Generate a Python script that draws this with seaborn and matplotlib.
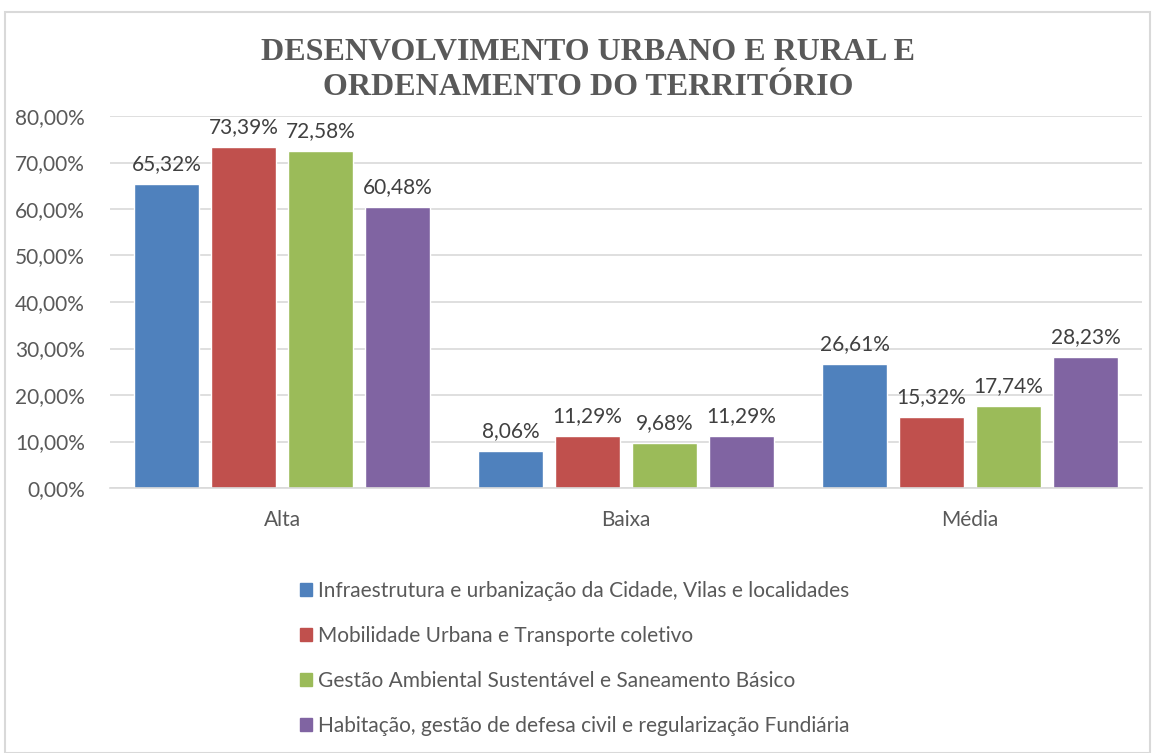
import matplotlib
matplotlib.use("Agg")
import matplotlib.pyplot as plt
import matplotlib.patches as mpatches
import seaborn as sns
import pandas as pd

# %% data
categorias = ["Alta", "Baixa", "Média"]
series = [
    "Infraestrutura e urbanização da Cidade, Vilas e localidades",
    "Mobilidade Urbana e Transporte coletivo",
    "Gestão Ambiental Sustentável e Saneamento Básico",
    "Habitação, gestão de defesa civil e regularização Fundiária",
]
infraestrutura = [65.32, 8.06, 26.61]
mobilidade = [73.39, 11.29, 15.32]
gestao_ambiental = [72.58, 9.68, 17.74]
habitacao = [60.48, 11.29, 28.23]
cores = ["#4F81BD", "#C0504D", "#9BBB59", "#8064A2"]
yticks = [0, 10, 20, 30, 40, 50, 60, 70, 80]

df = pd.DataFrame({
    "categoria": categorias * 4,
    "serie": [s for s in series for _ in categorias],
    "valor": infraestrutura + mobilidade + gestao_ambiental + habitacao,
})

# %% plot
sns.set_style("white")
plt.rcParams["font.family"] = ["Lato", "DejaVu Sans"]
texto = "#595959"

fig = plt.figure(figsize=(11.55, 7.53), dpi=100)
ax = fig.add_axes([110 / 1155, 1 - 488 / 753, 1032 / 1155, 372 / 753])

sns.barplot(data=df, x="categoria", y="valor", hue="serie", order=categorias,
            hue_order=series, palette=cores, width=0.895, gap=0.16,
            saturation=1, ax=ax, legend=False)

for cont in ax.containers:
    ax.bar_label(cont, labels=[f"{v:.2f}%".replace(".", ",") for v in cont.datavalues],
                 padding=7, fontsize=15, color="#404040")

ax.set_ylim(0, 80)
ax.set_xlim(-0.5, 2.5)
ax.set_yticks(yticks)
ax.set_yticklabels([f"{t:.2f}%".replace(".", ",") for t in yticks])
ax.yaxis.grid(True, color="#d9d9d9", linewidth=1.2)
ax.set_axisbelow(True)
ax.set_xlabel("")
ax.set_ylabel("")
ax.tick_params(axis="both", length=0, labelsize=15, labelcolor=texto)
ax.tick_params(axis="x", pad=16)
ax.tick_params(axis="y", pad=18)
for s in ["top", "right", "left"]:
    ax.spines[s].set_visible(False)
ax.spines["bottom"].set_color("#d9d9d9")
ax.spines["bottom"].set_linewidth(1.2)

fig.text(588 / 1155, 1 - 70 / 753, "DESENVOLVIMENTO URBANO E RURAL E\nORDENAMENTO DO TERRITÓRIO",
         ha="center", va="center", fontsize=23, fontweight="bold", color=texto,
         family="Liberation Serif", linespacing=1.3)

handles = [mpatches.Patch(color=c, label=s) for c, s in zip(cores, series)]
fig.legend(handles=handles, loc="upper left", bbox_to_anchor=(281 / 1155, 1 - 562 / 753),
           frameon=False, fontsize=15, labelcolor=texto, handlelength=0.6,
           handleheight=0.6, handletextpad=0.3, labelspacing=1.2)

# chart border
fig.patches.append(mpatches.Rectangle((5 / 1155, 0), 1145 / 1155, 1 - 12 / 753,
                                      transform=fig.transFigure, fill=False,
                                      edgecolor="#d9d9d9", linewidth=1.5))

fig.savefig("out.png", dpi=100)
